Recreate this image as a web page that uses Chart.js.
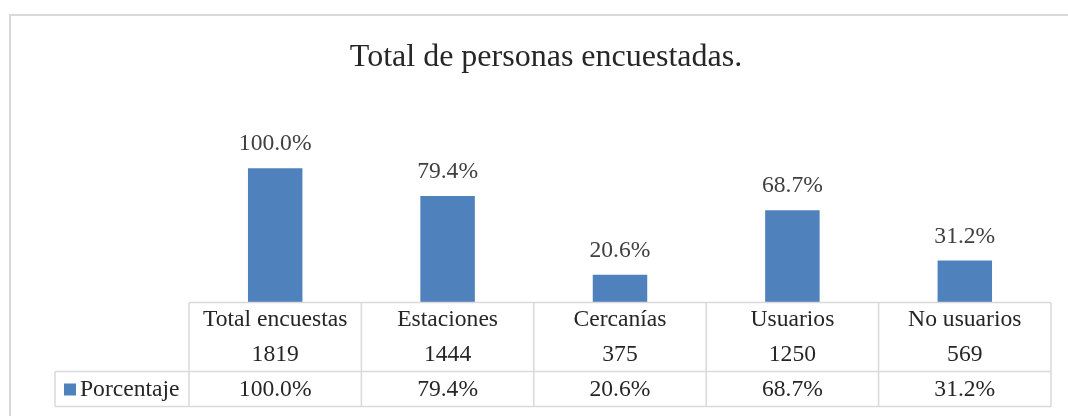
<!DOCTYPE html>
<html lang="es">
<head>
    <meta charset="UTF-8">
    <title>Total de personas encuestadas</title>
    <script src="https://cdn.jsdelivr.net/npm/chart.js"></script>
    <style>
        body { margin: 0; background: #ffffff; }
        canvas { display: block; }
    </style>
</head>
<body>
    <canvas id="grafico" width="1068" height="416"></canvas>

    <script>
        // Datos del gráfico
        const categorias = ['Total encuestas', 'Estaciones', 'Cercanías', 'Usuarios', 'No usuarios'];
        const personas = [1819, 1444, 375, 1250, 569];
        const porcentajes = [100.0, 79.4, 20.6, 68.7, 31.2];
        const nombreSerie = 'Porcentaje';

        const azul = '#4f81bd';
        const gris = '#d9d9d9';
        const fuente = '"Liberation Serif", "Times New Roman", serif';
        const tamTexto = 23.6;

        const fmt = v => v.toFixed(1) + '%';

        // Plugin: marco, etiquetas de datos y tabla de datos debajo de las barras
        const tablaPlugin = {
            id: 'tablaDatos',
            beforeDraw(chart) {
                const ctx = chart.ctx;
                ctx.save();
                ctx.strokeStyle = gris;
                ctx.lineWidth = 2;
                ctx.beginPath();
                ctx.moveTo(10, chart.height + 2);
                ctx.lineTo(10, 15);
                ctx.lineTo(chart.width + 2, 15);
                ctx.stroke();
                ctx.restore();
            },
            afterDraw(chart) {
                const ctx = chart.ctx;
                const area = chart.chartArea;
                const xs = chart.scales.x;
                const meta = chart.getDatasetMeta(0);
                const n = categorias.length;
                const ancho = (area.right - area.left) / n;

                ctx.save();
                ctx.font = tamTexto + 'px ' + fuente;
                ctx.textAlign = 'center';
                ctx.textBaseline = 'middle';

                // etiquetas encima de las barras
                ctx.fillStyle = '#404040';
                meta.data.forEach((barra, i) => {
                    ctx.fillText(fmt(porcentajes[i]), barra.x, barra.y - 24);
                });

                // líneas de la tabla
                const top = area.bottom;
                const fila1 = top + 69;
                const fila2 = fila1 + 35;
                const izqLeyenda = 55;
                ctx.strokeStyle = gris;
                ctx.lineWidth = 1.5;
                ctx.beginPath();
                ctx.moveTo(area.left, top); ctx.lineTo(area.right, top);
                ctx.moveTo(izqLeyenda, fila1); ctx.lineTo(area.right, fila1);
                ctx.moveTo(izqLeyenda, fila2); ctx.lineTo(area.right, fila2);
                ctx.moveTo(izqLeyenda, fila1); ctx.lineTo(izqLeyenda, fila2);
                for (let k = 0; k <= n; k++) {
                    const x = area.left + k * ancho;
                    ctx.moveTo(x, top); ctx.lineTo(x, fila2);
                }
                ctx.stroke();

                // textos de la tabla
                ctx.fillStyle = '#262626';
                categorias.forEach((c, i) => {
                    const x = xs.getPixelForValue(i);
                    ctx.fillText(c, x, top + 17.5);
                    ctx.fillText(String(personas[i]), x, top + 52);
                    ctx.fillText(fmt(porcentajes[i]), x, fila1 + 18);
                });

                // clave de leyenda
                ctx.fillStyle = azul;
                ctx.fillRect(64, fila1 + 12, 12, 12);
                ctx.fillStyle = '#262626';
                ctx.textAlign = 'left';
                ctx.fillText(chart.data.datasets[0].label, 80, fila1 + 18);
                ctx.restore();
            }
        };

        new Chart(document.getElementById('grafico'), {
            type: 'bar',
            data: {
                labels: categorias,
                datasets: [{
                    label: nombreSerie,
                    data: porcentajes,
                    backgroundColor: azul,
                    borderWidth: 0,
                    barPercentage: 0.316,
                    categoryPercentage: 1
                }]
            },
            options: {
                responsive: false,
                animation: false,
                layout: {
                    padding: { left: 41, right: 17, top: 0, bottom: 113.5 }
                },
                plugins: {
                    legend: { display: false },
                    tooltip: { enabled: false },
                    title: {
                        display: true,
                        text: 'Total de personas encuestadas.',
                        color: '#262626',
                        font: { family: fuente, size: 32, weight: 'normal' },
                        padding: { top: 38, bottom: 65 }
                    }
                },
                scales: {
                    x: { display: false },
                    y: {
                        min: 0,
                        max: 120,
                        grid: { display: false },
                        border: { display: false },
                        ticks: { display: false },
                        afterFit(scale) { scale.width = 148; }
                    }
                }
            },
            plugins: [tablaPlugin]
        });
    </script>
</body>
</html>
